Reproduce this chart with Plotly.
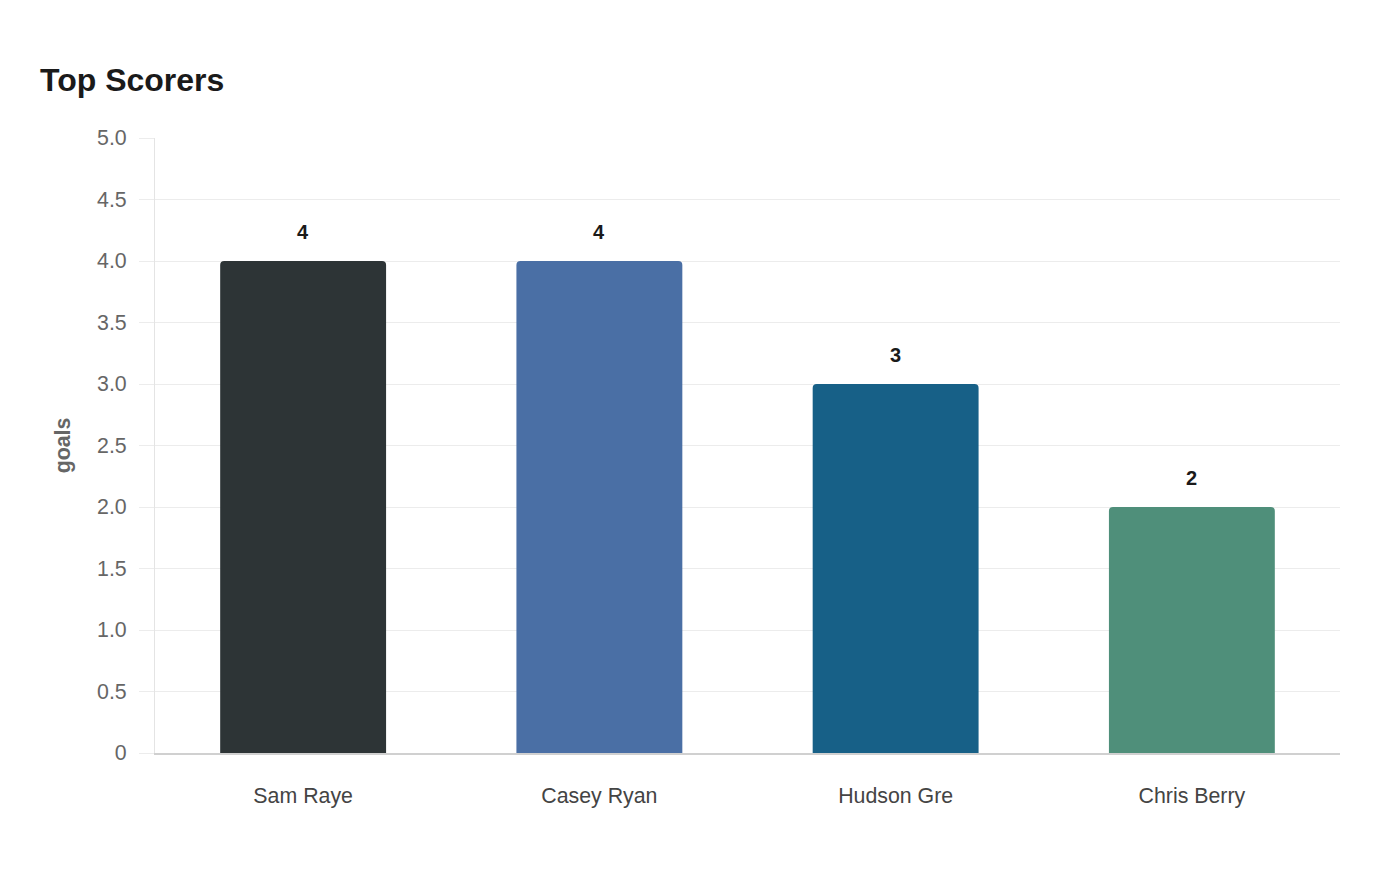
import plotly.graph_objects as go

players = ["Sam Raye", "Casey Ryan", "Hudson Gre", "Chris Berry"]
goals = [4, 4, 3, 2]
bar_colors = ["#2d3436", "#4a6fa5", "#176087", "#4f8f7a"]
y_ticks = [0, 0.5, 1, 1.5, 2, 2.5, 3, 3.5, 4, 4.5, 5]
y_tick_text = ["0", "0.5", "1.0", "1.5", "2.0", "2.5", "3.0", "3.5", "4.0", "4.5", "5.0"]

fig = go.Figure()
fig.add_trace(go.Bar(
    x=players, y=goals,
    marker=dict(color=bar_colors, line=dict(width=0), cornerradius=4),
    hoverinfo="x+y",
))

# value labels above bars
for name, val in zip(players, goals):
    fig.add_annotation(x=name, y=val, text=f"<b>{val}</b>", showarrow=False,
                       yanchor="bottom", yshift=16,
                       font=dict(size=20, color="#1a1a1a"))

fig.update_layout(
    width=1400, height=880,
    paper_bgcolor="white", plot_bgcolor="white",
    font=dict(family="Liberation Sans, Arial, sans-serif"),
    title=dict(text="<b>Top Scorers</b>", x=32 / 1400, xanchor="left",
               y=1 - 72 / 880, yanchor="middle",
               font=dict(size=32, color="#1a1a1a")),
    margin=dict(l=147, r=68, t=130, b=135),
    bargap=0.44,
    showlegend=False,
)
fig.update_xaxes(
    showgrid=False, showline=True, linecolor="#d0d0d0", linewidth=2,
    ticks="outside", ticklen=22, tickcolor="rgba(0,0,0,0)",
    tickfont=dict(size=21.33, color="#444444"),
)
fig.update_yaxes(
    range=[0, 5], tickvals=y_ticks, ticktext=y_tick_text,
    showgrid=True, gridcolor="#ececec", gridwidth=1,
    showline=True, linecolor="#e4e4e4", linewidth=1,
    ticks="outside", ticklen=15, tickcolor="#ececec",
    ticklabelstandoff=8,
    tickfont=dict(size=21.33, color="#666666"),
    zeroline=False,
    title=dict(text="<b>goals</b>", font=dict(size=21.33, color="#666666"), standoff=20),
)

fig.write_html("out.html")
